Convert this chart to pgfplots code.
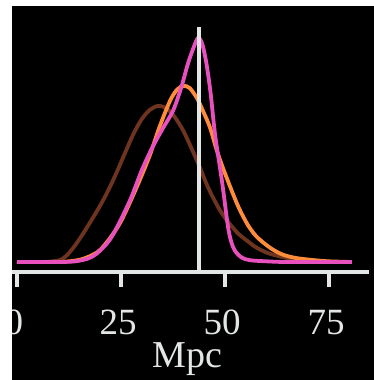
\documentclass[border=0pt]{standalone}
\usepackage{pgfplots}
\pgfplotsset{compat=1.18}
\usepackage{fontspec}
\setmainfont{Liberation Serif}

\definecolor{axisgray}{RGB}{226,230,228}
\definecolor{cbrown}{RGB}{110,52,32}
\definecolor{corange}{RGB}{255,140,58}
\definecolor{cpink}{RGB}{232,80,190}

\pgfplotstableread{
x y
0 0
6 0
9 0.004
10.5 0.01
12 0.03
14 0.075
16 0.13
18 0.19
20 0.252
22 0.322
24 0.402
26 0.488
28 0.572
30 0.638
32 0.68
34 0.697
36 0.685
38 0.645
40 0.585
42 0.505
44 0.42
46 0.33
48.5 0.24
50.5 0.185
53 0.13
55.3 0.095
57.5 0.065
60 0.042
62.5 0.028
65.5 0.016
70 0.006
75 0.001
80.5 0
}\brownpdf

\pgfplotstableread{
x y
0 0
10 0
13 0.004
15.5 0.012
18 0.03
20 0.054
22.5 0.11
24.8 0.175
27 0.26
29.6 0.37
32 0.48
34.2 0.6
36.8 0.72
38.5 0.77
40 0.786
41.5 0.777
43.3 0.73
44.7 0.675
46.4 0.6
48 0.5
49.5 0.42
51.9 0.305
53.5 0.235
55.5 0.165
57.5 0.115
60 0.075
62 0.05
64 0.032
67 0.018
71 0.009
75 0.003
80.5 0
}\orangepdf

\pgfplotstableread{
x y
0 0
10 0
14 0.003
17 0.015
19 0.035
21.5 0.08
23 0.12
25 0.19
27.5 0.29
30 0.41
32.5 0.51
35 0.595
37.5 0.675
39.5 0.78
41 0.88
42.3 0.95
43.5 1.0
44.5 0.975
45.5 0.89
46.5 0.76
47.6 0.57
48.8 0.42
49.5 0.33
50.7 0.16
51.5 0.09
52.4 0.05
54 0.02
56 0.008
60 0.003
65 0
80.5 0
}\pinkpdf

\begin{document}
\begin{tikzpicture}
\fill[white] (0pt,0pt) rectangle (374pt,380pt);
\begin{scope}
\clip (12pt,0pt) rectangle (374pt,374pt);
\fill[black] (12pt,0pt) rectangle (374pt,374pt);
\begin{axis}[
  at={(4.52pt,107.92pt)}, anchor=south west,
  x=4.16pt, y=224pt,
  xmin=-3, xmax=84.6, ymin=-0.045, ymax=1.05,
  axis x line=bottom, axis y line=none,
  axis line style={-, draw=axisgray, line width=4pt},
  xtick={0,25,50,75}, ytick=\empty,
  tick align=outside, major tick length=15pt,
  xtick style={draw=axisgray, line width=4pt},
  /pgf/number format/assume math mode=true,
  xticklabel style={font=\fontsize{37}{40}\selectfont, text=axisgray, anchor=base, xshift=-3pt, yshift=-47pt},
  xlabel={Mpc},
  xlabel style={at={(axis cs:40.9,-0.469)}, anchor=base, font=\fontsize{38}{40}\selectfont, text=axisgray},
  every axis plot/.append style={line width=3.8pt, smooth, tension=0.5},
]
\addplot[cbrown, no markers] table {\brownpdf};
\addplot[corange, no markers] table {\orangepdf};
\addplot[cpink, no markers] table {\pinkpdf};
\addplot[axisgray, no markers, line width=4pt, sharp plot] coordinates {(43.75,-0.045) (43.75,1.05)};
\end{axis}
\end{scope}
\pgfresetboundingbox
\useasboundingbox (0pt,0pt) rectangle (374pt,380pt);
\end{tikzpicture}
\end{document}
